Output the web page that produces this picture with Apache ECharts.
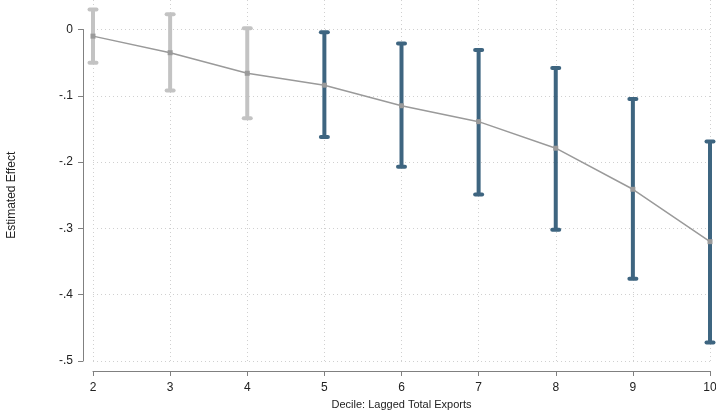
<!DOCTYPE html>
<html>
<head>
<meta charset="utf-8">
<script src="https://cdn.jsdelivr.net/npm/echarts@6/dist/echarts.min.js"></script>
<style>
  html, body { margin: 0; padding: 0; background: #fff; }
  #chart { width: 716px; height: 412px; }
</style>
</head>
<body>
<div id="chart"></div>
<script>
  // deciles of lagged total exports
  var deciles = [2, 3, 4, 5, 6, 7, 8, 9, 10];
  // point estimates and confidence bounds
  var estimates = [-0.010, -0.035, -0.066, -0.084, -0.115, -0.139, -0.179, -0.241, -0.320];
  var lower = [-0.050, -0.092, -0.134, -0.162, -0.207, -0.249, -0.302, -0.376, -0.472];
  var upper = [0.030, 0.023, 0.002, -0.004, -0.021, -0.031, -0.058, -0.105, -0.169];
  var yTicks = [-0.5, -0.4, -0.3, -0.2, -0.1, 0];

  var grayBar = '#c3c3c3';
  var blueBar = '#3e6580';

  function fmtY(v) {
    if (Math.abs(v) < 1e-9) return '0';
    return (v < 0 ? '-' : '') + Math.abs(v).toFixed(1).replace(/^0/, '');
  }

  var ciData = deciles.map(function (d, i) { return [d, lower[i], upper[i]]; });
  var pointData = deciles.map(function (d, i) { return [d, estimates[i]]; });

  var chart = echarts.init(document.getElementById('chart'));
  chart.setOption({
    animation: false,
    textStyle: { fontFamily: 'Liberation Sans, Arial, sans-serif' },
    grid: [
      { left: 93, right: 6, top: 29.5, bottom: 51, containLabel: false, outerBoundsMode: 'none' },
      { left: 93, right: 6, top: 0, bottom: 51, containLabel: false, outerBoundsMode: 'none' }
    ],
    xAxis: [
      {
        gridIndex: 0, type: 'value', min: 2, max: 10, interval: 1, offset: 10,
        name: 'Decile: Lagged Total Exports', nameLocation: 'middle', nameGap: 28,
        nameTextStyle: { fontSize: 11, color: '#222' },
        axisLine: { onZero: false, lineStyle: { color: '#808080', width: 1 } },
        axisTick: { length: 5, lineStyle: { color: '#808080' } },
        axisLabel: { fontSize: 12, color: '#222', margin: 11 },
        splitLine: { show: false }
      },
      {
        gridIndex: 1, type: 'value', min: 2, max: 10, interval: 1,
        axisLine: { show: false }, axisTick: { show: false }, axisLabel: { show: false },
        splitLine: { show: true, lineStyle: { color: '#d0d0d0', type: [1, 3], width: 1 } }
      }
    ],
    yAxis: [
      {
        gridIndex: 0, type: 'value', min: yTicks[0], max: yTicks[yTicks.length - 1], interval: 0.1, offset: 10,
        name: 'Estimated Effect', nameLocation: 'middle', nameGap: 65,
        nameTextStyle: { fontSize: 12, color: '#222' },
        axisLine: { show: true, onZero: false, lineStyle: { color: '#808080', width: 1 } },
        axisTick: { show: true, length: 5, lineStyle: { color: '#808080' } },
        axisLabel: { fontSize: 12, color: '#222', margin: 10, formatter: fmtY },
        splitLine: { show: true, lineStyle: { color: '#d0d0d0', type: [1, 3], width: 1 } }
      },
      { gridIndex: 1, type: 'value', min: -1, max: 1, show: false }
    ],
    series: [
      {
        type: 'custom',
        xAxisIndex: 0, yAxisIndex: 0,
        clip: false,
        data: ciData,
        renderItem: function (params, api) {
          var x = api.value(0);
          var lo = api.coord([x, api.value(1)]);
          var hi = api.coord([x, api.value(2)]);
          var color = api.value(2) < 0 ? blueBar : grayBar;
          var style = { stroke: color, lineWidth: 4, lineCap: 'round' };
          return {
            type: 'group',
            children: [
              { type: 'line', shape: { x1: lo[0], y1: lo[1], x2: hi[0], y2: hi[1] }, style: { stroke: color, lineWidth: 4 } },
              { type: 'line', shape: { x1: hi[0] - 3.5, y1: hi[1], x2: hi[0] + 3.5, y2: hi[1] }, style: style },
              { type: 'line', shape: { x1: lo[0] - 3.5, y1: lo[1], x2: lo[0] + 3.5, y2: lo[1] }, style: style }
            ]
          };
        },
        z: 2
      },
      {
        type: 'line',
        xAxisIndex: 0, yAxisIndex: 0,
        data: pointData,
        symbol: 'rect',
        symbolSize: 5,
        itemStyle: { color: '#9a9a9a' },
        lineStyle: { color: '#9a9a9a', width: 1.5 },
        z: 3
      }
    ]
  });
</script>
</body>
</html>
